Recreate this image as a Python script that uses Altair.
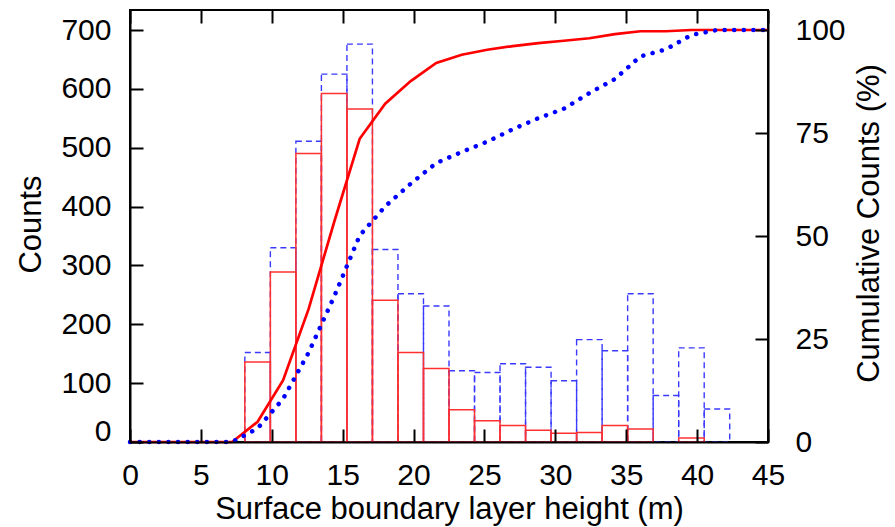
import altair as alt
import pandas as pd

# ---------------- data ----------------
bin_left = [8.1, 9.9, 11.7, 13.5, 15.3, 17.1, 18.9, 20.7, 22.5, 24.3,
            26.1, 27.9, 29.7, 31.5, 33.3, 35.1, 36.9, 38.7, 40.5]
bin_right = [9.9, 11.7, 13.5, 15.3, 17.1, 18.9, 20.7, 22.5, 24.3, 26.1,
             27.9, 29.7, 31.5, 33.3, 35.1, 36.9, 38.7, 40.5, 42.3]
red_counts = [136, 289, 490, 592, 566, 241, 152, 125, 55, 36,
              28, 20, 15, 16, 28, 22, 0, 7, 0]
blue_counts = [152, 330, 511, 625, 676, 327, 252, 231, 121, 118,
               133, 127, 104, 174, 155, 252, 79, 160, 56]

cum_x = [0, 1.8, 3.6, 5.4, 7.2, 9.0, 10.8, 12.6, 14.4, 16.2, 18.0, 19.8, 21.6,
         23.4, 25.2, 27.0, 28.8, 30.6, 32.4, 34.2, 36.0, 37.8, 39.6, 41.4, 43.2, 45.0]
red_cum = [0, 0, 0, 0, 0, 4.9, 15.0, 32.3, 53.4, 73.6, 82.1, 87.6, 92.0,
           94.0, 95.2, 96.1, 96.8, 97.4, 98.0, 99.0, 99.7, 99.7, 100, 100, 100, 100]
blue_cum = [0, 0, 0, 0, 0, 3.3, 10.5, 21.7, 35.3, 50.1, 57.2, 62.7, 67.7,
            70.4, 72.9, 75.9, 78.6, 80.9, 84.7, 88.1, 93.6, 95.3, 98.8, 100, 100, 100]

x_ticks = [0, 5, 10, 15, 20, 25, 30, 35, 40, 45]
count_ticks = [0, 100, 200, 300, 400, 500, 600, 700]
pct_ticks = [0, 25, 50, 75, 100]

x_title = "Surface boundary layer height (m)"
y_title = "Counts"
y2_title = "Cumulative Counts (%)"

# ---------------- chart ----------------
W, H = 638, 432
count_max = 734
pct_max = count_max * 100.0 / 700.0
FONT = "Liberation Sans"
FS = 30
TFS = 31
TICK = 13

bars = pd.DataFrame({"lo": bin_left, "hi": bin_right,
                     "red": red_counts, "blue": blue_counts})
cum = pd.DataFrame({"h": cum_x, "red": red_cum, "blue": blue_cum})

xscale = alt.Scale(domain=[0, 45], nice=False, zero=False)
cscale = alt.Scale(domain=[0, count_max], nice=False)
pscale = alt.Scale(domain=[0, pct_max], nice=False)

x_label_axis = alt.Axis(
    orient="bottom", values=x_ticks, ticks=False, grid=False,
    domain=True, domainColor="black", domainWidth=2,
    labelFont=FONT, labelFontSize=FS, labelColor="black", labelPadding=18,
    labelFlush=False, labelOverlap=False, labelBound=False,
    title=x_title, titleFont=FONT, titleFontSize=TFS, titleFontWeight="normal",
    titleColor="black", titleBaseline="alphabetic", titleX=W / 2, titleY=76,
    zindex=1)

x_tick_bottom = alt.Axis(
    orient="bottom", values=x_ticks, offset=-TICK, tickSize=TICK, tickWidth=2,
    tickColor="black", domain=False, labels=False, grid=False, title="", zindex=1)

x_tick_top = alt.Axis(
    orient="top", values=x_ticks, offset=-TICK, tickSize=TICK, tickWidth=2,
    tickColor="black", domain=False, labels=False, grid=False, title="", zindex=1)

y_label_axis = alt.Axis(
    orient="left", values=count_ticks, ticks=False, grid=False,
    domain=True, domainColor="black", domainWidth=2,
    labelFont=FONT, labelFontSize=FS, labelColor="black", labelPadding=19,
    labelFlush=False, labelOverlap=False, labelBound=False,
    labelOffset={"condition": {"test": "datum.value === 0", "value": -11}, "value": 0},
    title=y_title, titleFont=FONT, titleFontSize=TFS, titleFontWeight="normal",
    titleColor="black", titleAngle=270, titleBaseline="alphabetic",
    titleX=-90, titleY=214, zindex=1)

y_tick_left = alt.Axis(
    orient="left", values=count_ticks, offset=-TICK, tickSize=TICK, tickWidth=2,
    tickColor="black", domain=False, labels=False, grid=False, title="", zindex=1)

y2_label_axis = alt.Axis(
    orient="right", values=pct_ticks, ticks=False, grid=False,
    domain=True, domainColor="black", domainWidth=2,
    labelFont=FONT, labelFontSize=FS, labelColor="black", labelPadding=27,
    labelFlush=False, labelOverlap=False, labelBound=False,
    title=y2_title, titleFont=FONT, titleFontSize=TFS, titleFontWeight="normal",
    titleColor="black", titleAngle=270, titleBaseline="alphabetic",
    titleX=110, titleY=213, zindex=1)

y2_tick_right = alt.Axis(
    orient="right", values=pct_ticks, offset=-TICK, tickSize=TICK, tickWidth=2,
    tickColor="black", domain=False, labels=False, grid=False, title="", zindex=1)

base_bars = alt.Chart(bars)

blue_bars = base_bars.mark_rect(
    filled=False, color="#3a3aff", strokeWidth=1.4, strokeDash=[6, 4]
).encode(
    x=alt.X("lo:Q", scale=xscale, axis=x_label_axis),
    x2="hi:Q",
    y=alt.Y("blue:Q", scale=cscale, axis=y_label_axis),
    y2=alt.datum(0),
)

red_bars = base_bars.mark_rect(
    filled=False, color="#ff3030", strokeWidth=1.5
).transform_filter("datum.red > 0").encode(
    x=alt.X("lo:Q", scale=xscale, axis=x_tick_bottom),
    x2="hi:Q",
    y=alt.Y("red:Q", scale=cscale, axis=y_tick_left),
    y2=alt.datum(0),
)

base_cum = alt.Chart(cum)

red_line = base_cum.mark_line(color="#ff0000", strokeWidth=2.7).encode(
    x=alt.X("h:Q", scale=xscale, axis=x_tick_top),
    y=alt.Y("red:Q", scale=pscale, axis=y2_label_axis),
)

blue_line = base_cum.mark_line(
    color="#0000ff", strokeWidth=4.5, strokeDash=[0.1, 9.5], strokeCap="round"
).encode(
    x=alt.X("h:Q", scale=xscale, axis=None),
    y=alt.Y("blue:Q", scale=pscale, axis=y2_tick_right),
)

chart = alt.layer(blue_bars, red_bars, red_line, blue_line).resolve_scale(
    y="independent"
).resolve_axis(
    x="independent", y="independent"
).properties(
    width=W, height=H,
    padding={"left": 122, "top": 2, "right": 119, "bottom": 85},
    autosize=alt.AutoSizeParams(type="none"),
    background="white",
).configure_view(
    stroke="black", strokeWidth=2
)

chart.save("out.html", embed_options={"renderer": "svg", "actions": False})
